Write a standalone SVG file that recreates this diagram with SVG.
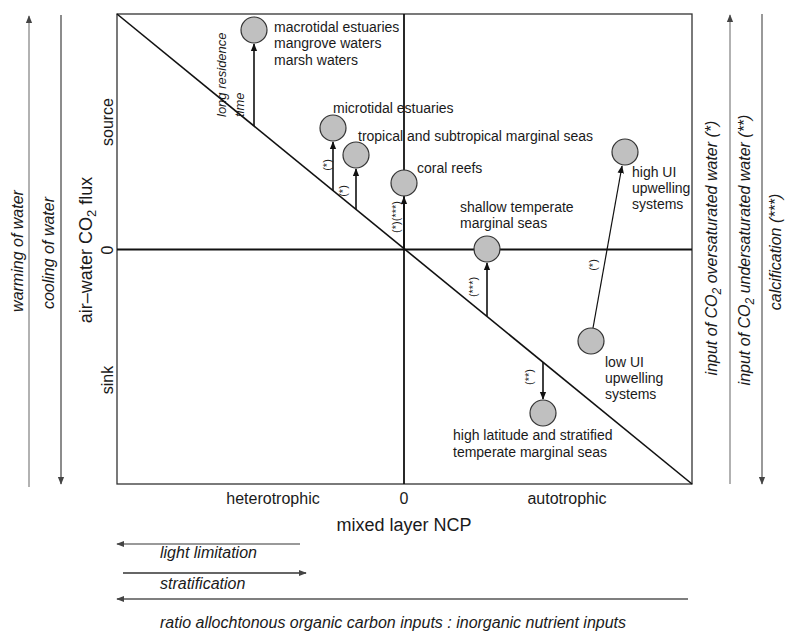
<svg xmlns="http://www.w3.org/2000/svg" width="785" height="632" viewBox="0 0 785 632">
<defs>
<style>
text{font-family:"Liberation Sans",Arial,sans-serif;fill:#1a1a1a}
.lbl{font-size:14px}
.tick{font-size:16px}
.ax{font-size:18px}
.side{font-size:16px;font-style:italic}
.note{font-size:11px}
.lr{font-size:13px;font-style:italic}
.node circle{fill:#c0c0c0;stroke:#333;stroke-width:1.2}
.conn line{stroke:#111;stroke-width:1.6;marker-end:url(#ah)}
</style>
<marker id="ah" viewBox="0 0 10 10" refX="9" refY="5" markerUnits="userSpaceOnUse" markerWidth="8" markerHeight="8" orient="auto"><path d="M0,1 L10,5 L0,9 Z" fill="#111"/></marker>
<marker id="ag" viewBox="0 0 10 10" refX="9" refY="5" markerUnits="userSpaceOnUse" markerWidth="8" markerHeight="8" orient="auto"><path d="M0,1 L10,5 L0,9 Z" fill="#444"/></marker>
</defs>
<rect width="785" height="632" fill="#fff"/>

<!-- frame, axes, diagonal -->
<g id="frame">
<rect x="117" y="14" width="575" height="470" fill="none" stroke="#333" stroke-width="1.3"/>
<line x1="404" y1="14" x2="404" y2="484" stroke="#111" stroke-width="1.8"/>
<line x1="117" y1="249.5" x2="692" y2="249.5" stroke="#111" stroke-width="1.8"/>
<line x1="117" y1="14" x2="692" y2="484" stroke="#111" stroke-width="1.6"/>
</g>

<!-- side arrows -->
<g id="side-lines" fill="none">
<line x1="29" y1="487" x2="29" y2="16" stroke="#999" stroke-width="1.5" marker-end="url(#ag)"/>
<line x1="61" y1="15" x2="61" y2="484" stroke="#666" stroke-width="1.5" marker-end="url(#ag)"/>
<line x1="730" y1="484" x2="730" y2="15" stroke="#999" stroke-width="1.5" marker-end="url(#ag)"/>
<line x1="762" y1="14" x2="762" y2="484" stroke="#777" stroke-width="1.5" marker-end="url(#ag)"/>
<line x1="300" y1="544" x2="117" y2="544" stroke="#777" stroke-width="1.5" marker-end="url(#ag)"/>
<line x1="123" y1="573" x2="306" y2="573" stroke="#333" stroke-width="1.5" marker-end="url(#ag)"/>
<line x1="688" y1="599" x2="117" y2="599" stroke="#555" stroke-width="1.5" marker-end="url(#ag)"/>
</g>

<!-- side texts -->
<g id="side-texts">
<text class="side" text-anchor="middle" transform="translate(23,251) rotate(-90)">warming of water</text>
<text class="side" text-anchor="middle" transform="translate(54,253) rotate(-90)">cooling of water</text>
<text class="ax" text-anchor="middle" transform="translate(92,250) rotate(-90)">air–water CO<tspan font-size="13" dy="4">2</tspan><tspan dy="-4"> flux</tspan></text>
<text class="tick" text-anchor="middle" transform="translate(113,122) rotate(-90)">source</text>
<text class="tick" text-anchor="middle" transform="translate(113,250) rotate(-90)">0</text>
<text class="tick" text-anchor="middle" transform="translate(113,380) rotate(-90)">sink</text>
<text class="side" text-anchor="middle" transform="translate(717,248) rotate(-90)">input of CO<tspan font-size="12" dy="4">2</tspan><tspan dy="-4"> oversaturated water (*)</tspan></text>
<text class="side" text-anchor="middle" transform="translate(750,250) rotate(-90)">input of CO<tspan font-size="12" dy="4">2</tspan><tspan dy="-4"> undersaturated water (**)</tspan></text>
<text class="side" text-anchor="middle" transform="translate(781,252) rotate(-90)">calcification (***)</text>
<text class="tick" x="273" y="504" text-anchor="middle">heterotrophic</text>
<text class="tick" x="404" y="504" text-anchor="middle">0</text>
<text class="tick" x="567" y="504" text-anchor="middle">autotrophic</text>
<text class="ax" x="404" y="531" text-anchor="middle">mixed layer NCP</text>
<text class="side" x="160" y="558">light limitation</text>
<text class="side" x="160" y="589">stratification</text>
<text class="side" x="160" y="628">ratio allochtonous organic carbon inputs : inorganic nutrient inputs</text>
</g>

<!-- connectors -->
<g id="connectors" class="conn">
<line x1="254" y1="126" x2="254" y2="44"/>
<line x1="333" y1="191" x2="333" y2="142"/>
<line x1="356" y1="209" x2="356" y2="169"/>
<line x1="404" y1="249" x2="404" y2="197"/>
<line x1="487" y1="316" x2="487" y2="263"/>
<line x1="593" y1="328" x2="622" y2="166" style="stroke-width:1.2"/>
<line x1="543" y1="362" x2="543" y2="399"/>
</g>

<!-- connector labels -->
<g id="connector-labels">
<text class="lr" transform="translate(226,117) rotate(-90)">long residence</text>
<text class="lr" transform="translate(244,117) rotate(-90)">time</text>
<text class="note" text-anchor="middle" transform="translate(331,165) rotate(-90)">(*)</text>
<text class="note" text-anchor="middle" transform="translate(347,191) rotate(-90)">(*)</text>
<text class="note" text-anchor="middle" transform="translate(400,217) rotate(-90)">(*)(***)</text>
<text class="note" text-anchor="middle" transform="translate(477,287) rotate(-90)">(***)</text>
<text class="note" text-anchor="middle" transform="translate(597,265) rotate(-90)">(*)</text>
<text class="note" text-anchor="middle" transform="translate(533,377) rotate(-90)">(**)</text>
</g>

<!-- nodes -->
<g id="n-macrotidal" class="node">
<circle cx="254" cy="30" r="13"/>
<text class="lbl" x="274" y="32">macrotidal estuaries</text>
<text class="lbl" x="274" y="48">mangrove waters</text>
<text class="lbl" x="274" y="65">marsh waters</text>
</g>
<g id="n-microtidal" class="node">
<circle cx="333" cy="128" r="13"/>
<text class="lbl" x="333" y="113">microtidal estuaries</text>
</g>
<g id="n-tropical" class="node">
<circle cx="356" cy="155" r="13"/>
<text class="lbl" x="358" y="141">tropical and subtropical marginal seas</text>
</g>
<g id="n-coral" class="node">
<circle cx="404" cy="183" r="13"/>
<text class="lbl" x="417" y="173">coral reefs</text>
</g>
<g id="n-shallow" class="node">
<circle cx="487" cy="249" r="13"/>
<text class="lbl" x="460" y="212">shallow temperate</text>
<text class="lbl" x="460" y="228">marginal seas</text>
</g>
<g id="n-highUI" class="node">
<circle cx="625" cy="152" r="13"/>
<text class="lbl" x="632" y="177">high UI</text>
<text class="lbl" x="632" y="193">upwelling</text>
<text class="lbl" x="632" y="209">systems</text>
</g>
<g id="n-lowUI" class="node">
<circle cx="591" cy="341" r="13"/>
<text class="lbl" x="605" y="367">low UI</text>
<text class="lbl" x="605" y="383">upwelling</text>
<text class="lbl" x="605" y="399">systems</text>
</g>
<g id="n-highlat" class="node">
<circle cx="543" cy="413" r="13"/>
<text class="lbl" x="453" y="440">high latitude and stratified</text>
<text class="lbl" x="453" y="457">temperate marginal seas</text>
</g>
</svg>
